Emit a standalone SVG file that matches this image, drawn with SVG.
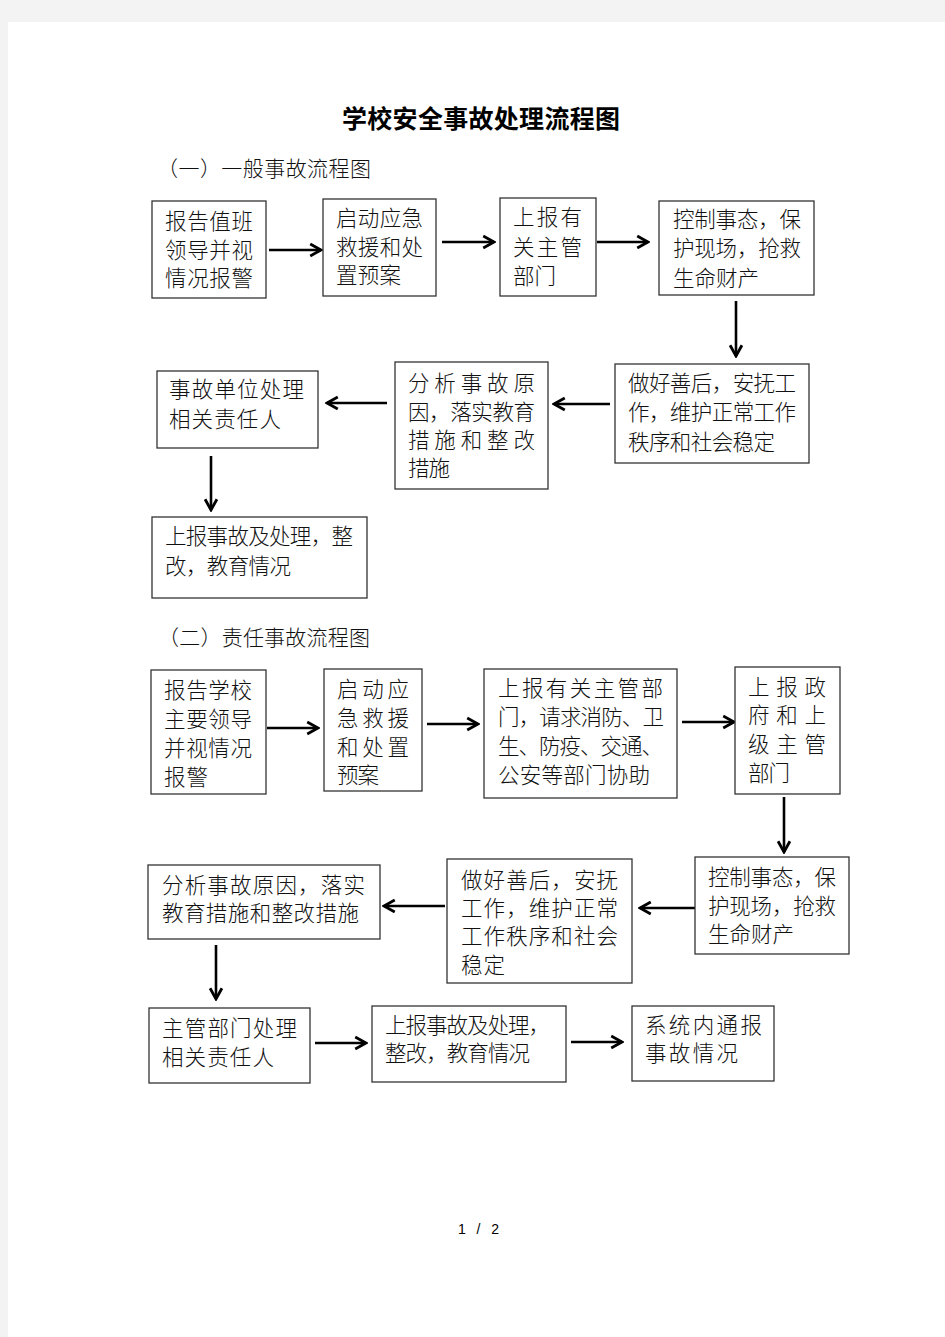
<svg xmlns="http://www.w3.org/2000/svg" width="945" height="1337" viewBox="0 0 945 1337">
<style>
.box{fill:#fff;stroke:#333;stroke-width:1.3}
.t{font-family:"Noto Sans CJK SC","Noto Sans CJK JP",sans-serif;font-size:21.5px;font-weight:300;fill:#111}
.h{font-family:"Noto Sans CJK SC","Noto Sans CJK JP",sans-serif;font-size:21px;font-weight:300;fill:#111}
.title{font-family:"Noto Sans CJK SC","Noto Sans CJK JP",sans-serif;font-size:25px;font-weight:bold;fill:#000}
.arr{stroke:#000;stroke-width:2.6;fill:none;marker-end:url(#ah)}
</style>
<defs>
<marker id="ah" markerUnits="userSpaceOnUse" markerWidth="14" markerHeight="16" viewBox="-1 -7 13 14" refX="10" refY="0" orient="auto">
<path d="M0,-5.5 L10,0 L0,5.5" fill="none" stroke="#000" stroke-width="2.6"/>
</marker>
</defs>
<rect width="945" height="1337" fill="#f3f3f3"/>
<rect x="8" y="22" width="937" height="1315" fill="#fff"/>
<text class="title" x="342" y="128" textLength="278" lengthAdjust="spacing">学校安全事故处理流程图</text>
<text class="h" x="157" y="176" textLength="214" lengthAdjust="spacing">（一）一般事故流程图</text>
<text class="h" x="158" y="645" textLength="212" lengthAdjust="spacing">（二）责任事故流程图</text>
<text x="458" y="1234" font-family="Liberation Sans, sans-serif" font-size="14" fill="#000" textLength="41" lengthAdjust="spacing">1 / 2</text>

<g id="connectors">
<line class="arr" x1="269" y1="250" x2="321" y2="250"/>
<line class="arr" x1="442" y1="242" x2="494" y2="242"/>
<line class="arr" x1="597" y1="242" x2="648" y2="242"/>
<line class="arr" x1="736" y1="301" x2="736" y2="356"/>
<line class="arr" x1="610" y1="404" x2="554" y2="404"/>
<line class="arr" x1="387" y1="403" x2="327" y2="403"/>
<line class="arr" x1="211" y1="456" x2="211" y2="510"/>
<line class="arr" x1="267" y1="728" x2="318" y2="728"/>
<line class="arr" x1="427" y1="724" x2="478" y2="724"/>
<line class="arr" x1="682" y1="722" x2="734" y2="722"/>
<line class="arr" x1="784" y1="797" x2="784" y2="852"/>
<line class="arr" x1="695" y1="908" x2="640" y2="908"/>
<line class="arr" x1="445" y1="906" x2="384" y2="906"/>
<line class="arr" x1="216" y1="945" x2="216" y2="999"/>
<line class="arr" x1="315" y1="1043" x2="366" y2="1043"/>
<line class="arr" x1="571" y1="1042" x2="622" y2="1042"/>
</g>

<g id="n1">
<rect class="box" x="152" y="201" width="114" height="97"/>
<text class="t" x="165" y="229" textLength="88" lengthAdjust="spacing">报告值班</text>
<text class="t" x="165" y="257.5" textLength="88" lengthAdjust="spacing">领导并视</text>
<text class="t" x="165" y="286" textLength="88" lengthAdjust="spacing">情况报警</text>
</g>
<g id="n2">
<rect class="box" x="323" y="199" width="113" height="97"/>
<text class="t" x="336" y="226" textLength="87" lengthAdjust="spacing">启动应急</text>
<text class="t" x="336" y="255" textLength="87" lengthAdjust="spacing">救援和处</text>
<text class="t" x="336" y="283" textLength="65" lengthAdjust="spacing">置预案</text>
</g>
<g id="n3">
<rect class="box" x="500" y="198" width="96" height="98"/>
<text class="t" x="513" y="225" textLength="69" lengthAdjust="spacing">上报有</text>
<text class="t" x="513" y="255" textLength="69" lengthAdjust="spacing">关主管</text>
<text class="t" x="513" y="284" textLength="43" lengthAdjust="spacing">部门</text>
</g>
<g id="n4">
<rect class="box" x="659" y="201" width="155" height="94"/>
<text class="t" x="673" y="227" textLength="128" lengthAdjust="spacing">控制事态，保</text>
<text class="t" x="673" y="256" textLength="128" lengthAdjust="spacing">护现场，抢救</text>
<text class="t" x="673" y="286" textLength="86" lengthAdjust="spacing">生命财产</text>
</g>
<g id="n5">
<rect class="box" x="615" y="364" width="194" height="99"/>
<text class="t" x="628" y="391" textLength="168" lengthAdjust="spacing">做好善后，安抚工</text>
<text class="t" x="628" y="420" textLength="168" lengthAdjust="spacing">作，维护正常工作</text>
<text class="t" x="628" y="450" textLength="147" lengthAdjust="spacing">秩序和社会稳定</text>
</g>
<g id="n6">
<rect class="box" x="395" y="362" width="153" height="127"/>
<text class="t" x="408" y="391" textLength="127" lengthAdjust="spacing">分析事故原</text>
<text class="t" x="408" y="420" textLength="127" lengthAdjust="spacing">因，落实教育</text>
<text class="t" x="408" y="448" textLength="127" lengthAdjust="spacing">措施和整改</text>
<text class="t" x="408" y="476" textLength="42" lengthAdjust="spacing">措施</text>
</g>
<g id="n7">
<rect class="box" x="157" y="371" width="161" height="77"/>
<text class="t" x="169" y="397" textLength="135" lengthAdjust="spacing">事故单位处理</text>
<text class="t" x="169" y="427" textLength="112" lengthAdjust="spacing">相关责任人</text>
</g>
<g id="n8">
<rect class="box" x="152" y="517" width="215" height="81"/>
<text class="t" x="165" y="544" textLength="188" lengthAdjust="spacing">上报事故及处理，整</text>
<text class="t" x="165" y="574" textLength="126" lengthAdjust="spacing">改，教育情况</text>
</g>

<g id="m1">
<rect class="box" x="151" y="670" width="115" height="124"/>
<text class="t" x="164" y="698" textLength="88" lengthAdjust="spacing">报告学校</text>
<text class="t" x="164" y="727" textLength="88" lengthAdjust="spacing">主要领导</text>
<text class="t" x="164" y="756" textLength="88" lengthAdjust="spacing">并视情况</text>
<text class="t" x="164" y="785" textLength="44" lengthAdjust="spacing">报警</text>
</g>
<g id="m2">
<rect class="box" x="324" y="669" width="98" height="122"/>
<text class="t" x="337" y="697" textLength="72" lengthAdjust="spacing">启动应</text>
<text class="t" x="337" y="726" textLength="72" lengthAdjust="spacing">急救援</text>
<text class="t" x="337" y="755" textLength="72" lengthAdjust="spacing">和处置</text>
<text class="t" x="337" y="783" textLength="42" lengthAdjust="spacing">预案</text>
</g>
<g id="m3">
<rect class="box" x="484" y="669" width="193" height="129"/>
<text class="t" x="498" y="696" textLength="165" lengthAdjust="spacing">上报有关主管部</text>
<text class="t" x="498" y="725" textLength="166" lengthAdjust="spacing">门，请求消防、卫</text>
<text class="t" x="498" y="754" textLength="165" lengthAdjust="spacing">生、防疫、交通、</text>
<text class="t" x="498" y="783" textLength="152" lengthAdjust="spacing">公安等部门协助</text>
</g>
<g id="m4">
<rect class="box" x="735" y="667" width="105" height="127"/>
<text class="t" x="748" y="695" textLength="78" lengthAdjust="spacing">上报政</text>
<text class="t" x="748" y="723" textLength="78" lengthAdjust="spacing">府和上</text>
<text class="t" x="748" y="752" textLength="78" lengthAdjust="spacing">级主管</text>
<text class="t" x="748" y="781" textLength="42" lengthAdjust="spacing">部门</text>
</g>
<g id="m5">
<rect class="box" x="695" y="857" width="154" height="97"/>
<text class="t" x="708" y="885" textLength="128" lengthAdjust="spacing">控制事态，保</text>
<text class="t" x="708" y="914" textLength="128" lengthAdjust="spacing">护现场，抢救</text>
<text class="t" x="708" y="942" textLength="86" lengthAdjust="spacing">生命财产</text>
</g>
<g id="m6">
<rect class="box" x="447" y="859" width="185" height="124"/>
<text class="t" x="461" y="888" textLength="157" lengthAdjust="spacing">做好善后，安抚</text>
<text class="t" x="461" y="916" textLength="157" lengthAdjust="spacing">工作，维护正常</text>
<text class="t" x="461" y="944" textLength="157" lengthAdjust="spacing">工作秩序和社会</text>
<text class="t" x="461" y="973" textLength="44" lengthAdjust="spacing">稳定</text>
</g>
<g id="m7">
<rect class="box" x="148" y="865" width="232" height="74"/>
<text class="t" x="162" y="893" textLength="203" lengthAdjust="spacing">分析事故原因，落实</text>
<text class="t" x="162" y="921" textLength="197" lengthAdjust="spacing">教育措施和整改措施</text>
</g>
<g id="m8">
<rect class="box" x="149" y="1008" width="161" height="75"/>
<text class="t" x="162" y="1036" textLength="135" lengthAdjust="spacing">主管部门处理</text>
<text class="t" x="162" y="1065" textLength="112" lengthAdjust="spacing">相关责任人</text>
</g>
<g id="m9">
<rect class="box" x="372" y="1006" width="194" height="76"/>
<text class="t" x="385" y="1033" textLength="165" lengthAdjust="spacing">上报事故及处理，</text>
<text class="t" x="385" y="1061" textLength="145" lengthAdjust="spacing">整改，教育情况</text>
</g>
<g id="m10">
<rect class="box" x="632" y="1006" width="142" height="75"/>
<text class="t" x="645" y="1033" textLength="117" lengthAdjust="spacing">系统内通报</text>
<text class="t" x="645" y="1061" textLength="93" lengthAdjust="spacing">事故情况</text>
</g>
</svg>
